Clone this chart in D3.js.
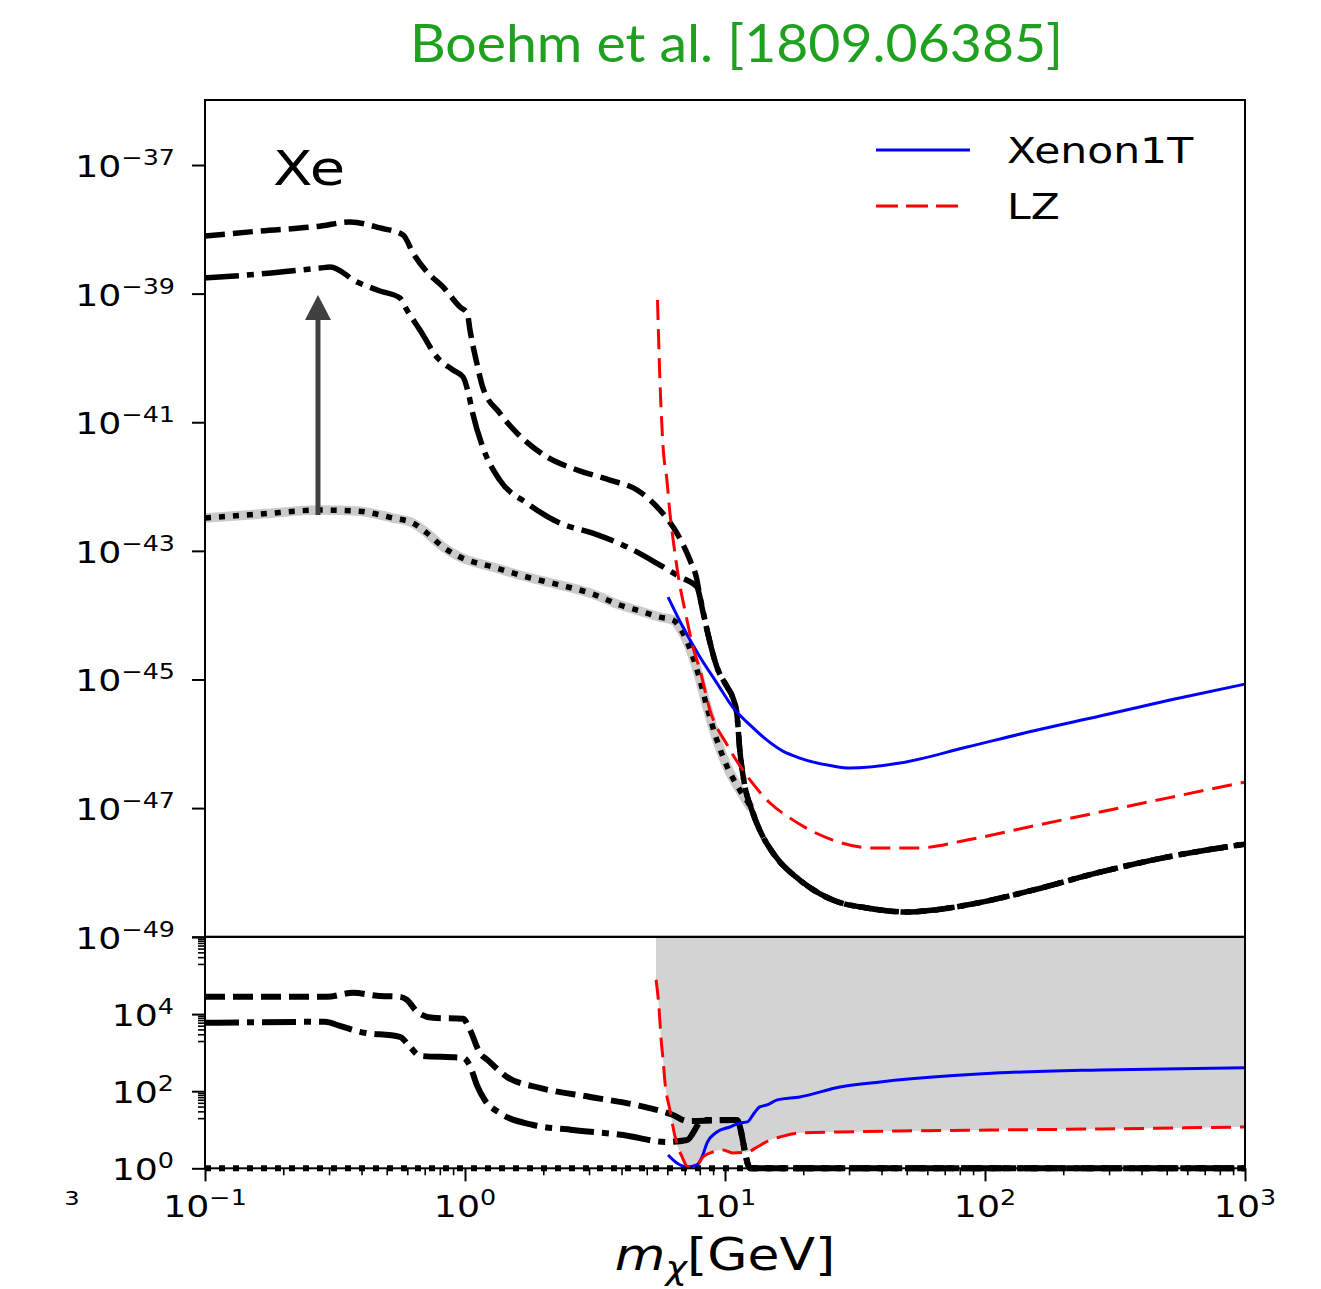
<!DOCTYPE html>
<html>
<head>
<meta charset="utf-8">
<script src="https://cdn.jsdelivr.net/npm/d3@7"></script>
<style>
  html, body { margin: 0; padding: 0; background: #fff; }
  svg { display: block; }
  text { font-family: "DejaVu Sans", sans-serif; fill: #000; }
</style>
</head>
<body>
<svg id="chart" width="1321" height="1289"></svg>
<script>
// ---------- Upper panel: cross-section limits (cm^2) vs DM mass (GeV) ----------
// Dashed curve, low-mass part
const dashedMass  = [0.1, 0.163, 0.277, 0.361, 0.471, 0.578, 0.631, 0.714, 0.823, 0.957, 1.02, 1.045, 1.11, 1.17, 1.36, 1.585, 2.07, 2.70, 3.61, 4.59, 5.62, 6.53, 7.33, 7.80];
const dashedSigma = [7.87e-39, 9.42e-39, 1.12e-38, 1.30e-38, 1.05e-38, 8.15e-39, 4.28e-39, 2.17e-39, 1.27e-39, 6.19e-40, 4.99e-40, 2.72e-40, 8.34e-41, 3.52e-41, 1.39e-41, 6.79e-42, 2.88e-42, 1.81e-42, 1.26e-42, 8.83e-43, 4.31e-43, 1.89e-43, 7.19e-44, 3.52e-44];
// Dash-dot curve, low-mass part
const dashDotMass  = [0.1, 0.163, 0.277, 0.303, 0.385, 0.471, 0.562, 0.598, 0.671, 0.780, 0.899, 0.983, 1.03, 1.07, 1.17, 1.36, 1.73, 2.32, 3.10, 4.20, 5.62, 6.71, 7.80];
const dashDotSigma = [1.75e-39, 2.02e-39, 2.50e-39, 2.59e-39, 1.51e-39, 1.10e-39, 8.55e-40, 5.56e-40, 2.72e-40, 1.03e-40, 6.49e-41, 5.05e-41, 2.84e-41, 1.39e-41, 4.11e-42, 1.26e-42, 5.53e-43, 2.70e-43, 1.89e-43, 1.15e-43, 6.01e-44, 3.92e-44, 2.74e-44];
// Knee shared by the dashed and dash-dot curves
const kneeMass  = [8.01, 8.53, 9.31, 10.2, 10.7, 11.1, 11.4, 11.9];
const kneeSigma = [1.91e-44, 5.86e-45, 1.56e-45, 7.62e-46, 5.32e-46, 3.00e-46, 7.98e-47, 2.28e-47];
// Dotted curve, low-mass part
const dottedMass  = [0.1, 0.163, 0.277, 0.385, 0.528, 0.631, 0.714, 0.823, 0.957, 1.28, 1.73, 2.32, 3.10, 3.94, 4.71, 5.62, 6.31, 6.89, 7.53, 8.01, 8.53, 9.31, 10.2, 11.4];
const dottedSigma = [3.24e-43, 3.73e-43, 4.31e-43, 4.16e-43, 3.24e-43, 2.70e-43, 1.89e-43, 1.15e-43, 8.01e-44, 5.60e-44, 3.92e-44, 2.94e-44, 2.13e-44, 1.44e-44, 1.16e-44, 9.33e-45, 8.39e-45, 5.27e-45, 2.23e-45, 9.79e-46, 3.72e-46, 1.14e-46, 4.35e-47, 1.91e-47];
// High-mass tail common to all three black curves
const tailMass  = [12.6, 13.6, 15.3, 19.4, 26.0, 35.2, 50.1, 63.1, 93.1, 153, 277, 501, 1000];
const tailSigma = [1.0e-47, 4.55e-48, 2.0e-48, 7.59e-49, 3.71e-49, 2.79e-49, 2.42e-49, 2.59e-49, 3.33e-49, 5.31e-49, 1.01e-48, 1.73e-48, 2.75e-48];

// Xenon1T
const xenonMass  = [6.04, 6.89, 8.01, 9.31, 10.7, 12.5, 14.5, 16.7, 19.4, 26.0, 30.2, 47.1, 85.3, 153, 277, 515, 1000];
const xenonSigma = [1.91e-44, 6.53e-45, 2.23e-45, 8.79e-46, 3.72e-46, 1.95e-46, 1.14e-46, 7.69e-47, 6.0e-47, 4.50e-47, 4.19e-47, 5.01e-47, 8.89e-47, 1.58e-46, 2.70e-46, 4.79e-46, 8.47e-46];
// LZ
const lzMass  = [5.50, 5.62, 5.78, 5.98, 6.14, 6.25, 6.65, 7.08, 7.53, 8.01, 8.75, 10.2, 12.5, 14.9, 17.8, 26.0, 37.1, 54.7, 85.3, 153, 277, 501, 1000];
const lzSigma = [7.94e-40, 4.53e-41, 4.11e-42, 1.26e-42, 3.87e-43, 2.10e-43, 3.52e-44, 1.0e-44, 3.19e-45, 1.40e-45, 3.34e-46, 9.55e-47, 2.72e-47, 1.20e-47, 6.98e-48, 3.18e-48, 2.39e-48, 2.39e-48, 3.18e-48, 5.25e-48, 8.67e-48, 1.43e-47, 2.54e-47];

// ---------- Lower panel: ratios ----------
const ratioDashedMass = [0.1, 0.294, 0.371, 0.459, 0.562, 0.598, 0.654, 0.753, 0.983, 1.045, 1.14, 1.22, 1.45, 1.94, 3.03, 4.71, 6.31, 7.14, 11.1, 12.5, 100, 1000];
const ratioDashed     = [2.81e4, 2.81e4, 3.57e4, 2.99e4, 2.81e4, 2.35e4, 1.15e4, 8.0e3, 7.55e3, 3.91e3, 988, 650, 235, 122, 71, 41.5, 24.2, 16.9, 18, 1, 1, 1];
const ratioDashDotMass = [0.1, 0.289, 0.330, 0.394, 0.562, 0.614, 0.671, 0.983, 1.045, 1.11, 1.19, 1.36, 1.83, 2.60, 4.05, 5.98, 7.14, 8.23, 11.1, 12.5, 100, 1000];
const ratioDashDot     = [5.94e3, 6.31e3, 4.97e3, 3.47e3, 2.57e3, 1.42e3, 826, 733, 454, 146, 59.4, 27.3, 13.3, 9.9, 7.3, 4.8, 5.4, 18, 18, 1, 1, 1];
const ratioDottedMass = [0.1, 1, 10, 100, 1000];
const ratioDotted     = [1, 1, 1, 1, 1];
const ratioXenonMass = [6.04, 6.53, 7.14, 7.80, 8.16, 8.53, 9.31, 10.45, 11.42, 12.2, 12.8, 13.6, 14.5, 15.9, 19.4, 27.7, 39.5, 73.3, 114, 277, 1000];
const ratioXenon     = [2.21, 1.37, 1.08, 1.22, 1.97, 4.54, 8.77, 11.8, 15.0, 16.0, 24.2, 39.1, 44.1, 59.4, 71.1, 129, 174, 250, 299, 357, 403];
const ratioLzMass = [5.43, 5.57, 5.68, 5.78, 5.88, 6.14, 6.43, 6.84, 7.21, 7.80, 8.23, 8.99, 9.82, 10.7, 12.2, 13.3, 14.9, 16.3, 19.4, 27.7, 47.1, 114, 277, 1000];
const ratioLz     = [7.78e4, 1.55e4, 2.15e3, 650, 164, 32.7, 6.5, 1.97, 1.08, 1.22, 1.97, 2.65, 2.99, 2.5, 2.65, 3.57, 5.43, 6.5, 8.26, 8.77, 9.3, 9.89, 10.5, 11.8];

// Axis ticks
const xMajor = [0.1, 1, 10, 100, 1000];
const xLabels = ["10^-1", "10^0", "10^1", "10^2", "10^3"];
const yTopMajor = [1e-37, 1e-39, 1e-41, 1e-43, 1e-45, 1e-47, 1e-49];
const yTopLabels = ["10^-37", "10^-39", "10^-41", "10^-43", "10^-45", "10^-47", "10^-49"];
const yBotMajor = [1, 1e2, 1e4];
const yBotLabels = ["10^0", "10^2", "10^4"];

// Annotation arrow (mass, from, to)
const arrowMass = 0.272, arrowFrom = 3.6e-43, arrowTo = 9.5e-40;

// ---------- Layout ----------
const svg = d3.select("#chart");
const L = 205, R = 1245;
const topY0 = 100.7, topY1 = 936.7, botY0 = 937, botY1 = 1168.3;

const x = d3.scaleLog().domain([0.1, 1000]).range([L, R]);
const yTop = d3.scaleLog().domain([1e-49, 1e-36]).range([topY1, topY0]);
const yBot = d3.scaleLog().domain([1, 1e6]).range([botY1, botY0]);

const STRETCH = 1.21;
svg.append("rect").attr("width", 1321).attr("height", 1289).attr("fill", "#fff");

const defs = svg.append("defs");
defs.append("clipPath").attr("id", "clipTop").append("rect")
  .attr("x", L).attr("y", 100).attr("width", R - L).attr("height", 837);
defs.append("clipPath").attr("id", "clipBot").append("rect")
  .attr("x", L).attr("y", botY0).attr("width", R - L).attr("height", botY1 - botY0 + 5);

const zip = (ms, vs) => ms.map((m, i) => [m, vs[i]]);
function lineFor(yScale) {
  return d3.line().x(d => x(d[0])).y(d => yScale(d[1])).curve(d3.curveMonotoneX);
}

const styles = {
  dashed:  { color: "#000", width: 5.5, dash: "20,8" },
  dashdot: { color: "#000", width: 5.5, dash: "34,8,7,8" },
  dotted:  { color: "#000", width: 5.5, dash: "6,8" },
  xenon:   { color: "#0000ff", width: 3, dash: null },
  lz:      { color: "#ff0000", width: 3, dash: "20,9" }
};
function draw(g, data, yScale, st, widthOverride) {
  g.append("path").datum(data)
    .attr("d", lineFor(yScale))
    .attr("fill", "none")
    .attr("stroke", st.color)
    .attr("stroke-width", widthOverride || st.width)
    .attr("stroke-dasharray", st.dash)
    .attr("stroke-linecap", "butt")
    .attr("stroke-linejoin", "round");
}

// ---------- Lower panel ----------
const gBot = svg.append("g").attr("clip-path", "url(#clipBot)");
gBot.append("path").datum(zip(ratioLzMass, ratioLz))
  .attr("d", d3.area().x(d => x(d[0])).y0(yBot(1e6)).y1(d => yBot(d[1])).curve(d3.curveMonotoneX))
  .attr("fill", "#d3d3d3");
draw(gBot, zip(ratioDottedMass, ratioDotted), yBot, styles.dotted, 6);
draw(gBot, zip(ratioDashDotMass, ratioDashDot), yBot, styles.dashdot, 6);
draw(gBot, zip(ratioDashedMass, ratioDashed), yBot, styles.dashed, 6);
draw(gBot, zip(ratioXenonMass, ratioXenon), yBot, styles.xenon);
draw(gBot, zip(ratioLzMass, ratioLz), yBot, styles.lz);

// ---------- Upper panel ----------
const gTop = svg.append("g").attr("clip-path", "url(#clipTop)");
const dottedData = zip(dottedMass, dottedSigma).concat(zip(tailMass, tailSigma));
// grey halo under the dotted curve
gTop.append("path").datum(zip(dottedMass, dottedSigma).concat([[tailMass[0], tailSigma[0]]]))
  .attr("d", lineFor(yTop)).attr("fill", "none")
  .attr("stroke", "#cbcbcb").attr("stroke-width", 9.5).attr("stroke-linejoin", "round");
draw(gTop, dottedData, yTop, styles.dotted);
draw(gTop, zip(dashDotMass, dashDotSigma).concat(zip(kneeMass, kneeSigma), zip(tailMass, tailSigma)), yTop, styles.dashdot);
draw(gTop, zip(dashedMass, dashedSigma).concat(zip(kneeMass, kneeSigma), zip(tailMass, tailSigma)), yTop, styles.dashed);
draw(gTop, zip(xenonMass, xenonSigma), yTop, styles.xenon);
draw(gTop, zip(lzMass, lzSigma), yTop, styles.lz);

// Arrow
const ax = x(arrowMass), ay0 = yTop(arrowFrom), ay1 = yTop(arrowTo);
const headLen = 25, headHalf = 13;
svg.append("line").attr("x1", ax).attr("x2", ax).attr("y1", ay0).attr("y2", ay1 + headLen - 1)
  .attr("stroke", "#404040").attr("stroke-width", 5);
svg.append("path")
  .attr("d", `M${ax},${ay1} L${ax - headHalf},${ay1 + headLen} L${ax + headHalf},${ay1 + headLen} Z`)
  .attr("fill", "#404040");

// ---------- Frames ----------
svg.append("rect").attr("x", L).attr("y", 100).attr("width", R - L).attr("height", topY1 - 100)
  .attr("fill", "none").attr("stroke", "#000").attr("stroke-width", 2);
svg.append("rect").attr("x", L).attr("y", botY0).attr("width", R - L).attr("height", botY1 - botY0)
  .attr("fill", "none").attr("stroke", "#000").attr("stroke-width", 2);

// ---------- Axes ----------
function styleAxis(g, w) {
  g.select(".domain").remove();
  g.selectAll(".tick line").attr("stroke", "#000").attr("stroke-width", w);
  g.selectAll(".tick text").remove();
}
const xMinor = [];
[-1, 0, 1, 2].forEach(k => { for (let m = 2; m <= 9; m++) xMinor.push(m * Math.pow(10, k)); });
svg.append("g").attr("transform", `translate(0,${botY1})`)
  .call(d3.axisBottom(x).tickValues(xMajor).tickSize(13).tickFormat(""))
  .call(g => styleAxis(g, 2));
svg.append("g").attr("transform", `translate(0,${botY1})`)
  .call(d3.axisBottom(x).tickValues(xMinor).tickSize(7).tickFormat(""))
  .call(g => styleAxis(g, 1.6));

svg.append("g").attr("transform", `translate(${L},0)`)
  .call(d3.axisLeft(yTop).tickValues(yTopMajor).tickSize(13).tickFormat(""))
  .call(g => styleAxis(g, 2));
svg.append("g").attr("transform", `translate(${L},0)`)
  .call(d3.axisLeft(yBot).tickValues(yBotMajor.concat([1e6])).tickSize(13).tickFormat(""))
  .call(g => styleAxis(g, 2));
const yBotMinor = [];
[1, 3, 5].forEach(k => { for (let m = 2; m <= 9; m++) yBotMinor.push(m * Math.pow(10, k)); });
svg.append("g").attr("transform", `translate(${L},0)`)
  .call(d3.axisLeft(yBot).tickValues(yBotMinor).tickSize(7).tickFormat(""))
  .call(g => styleAxis(g, 1.6));

// Power-of-ten label: "10" with a raised exponent
function powLabel(px, py, label, anchor) {
  const exp = label.split("^")[1].replace("-", "\u2212");
  const t = svg.append("text")
    .attr("transform", `translate(${px},${py}) scale(${STRETCH},1)`)
    .attr("text-anchor", anchor).attr("font-size", 30);
  t.append("tspan").text("10");
  t.append("tspan").attr("font-size", 21).attr("dy", -12).text(exp);
}
xMajor.forEach((v, i) => powLabel(x(v), 1217, xLabels[i], "middle"));
yTopMajor.forEach((v, i) => powLabel(175, yTop(v) + 12, yTopLabels[i], "end"));
yBotMajor.forEach((v, i) => powLabel(174, yBot(v) + 12, yBotLabels[i], "end"));

svg.append("text").attr("transform", `translate(72,1205) scale(${STRETCH},1)`)
  .attr("text-anchor", "middle").attr("font-size", 20).text("3");

// X axis title
const xt = svg.append("text").attr("transform", `translate(725,1270) scale(1.18,1)`)
  .attr("text-anchor", "middle").attr("font-size", 44);
xt.append("tspan").attr("font-style", "italic").text("m");
xt.append("tspan").attr("font-style", "italic").attr("font-size", 31).attr("dy", 9).text("\u03c7");
xt.append("tspan").attr("dy", -9).text("[GeV]");

// Panel tag
svg.append("text").attr("transform", `translate(273,185) scale(1.2,1)`)
  .attr("font-size", 48).text("Xe");

// Legend
const legend = [
  { name: "Xenon1T", st: styles.xenon, y: 150 },
  { name: "LZ", st: styles.lz, y: 206 }
];
legend.forEach(it => {
  svg.append("line").attr("x1", 876).attr("x2", it.name === "LZ" ? 960 : 970)
    .attr("y1", it.y).attr("y2", it.y)
    .attr("stroke", it.st.color).attr("stroke-width", 3)
    .attr("stroke-dasharray", it.st.dash ? "22,8" : null);
  svg.append("text").attr("transform", `translate(1007,${it.y + 13}) scale(1.18,1)`)
    .attr("font-size", 36).text(it.name);
});

// Title
svg.append("text").attr("x", 410).attr("y", 62)
  .attr("font-size", 53)
  .attr("textLength", 653).attr("lengthAdjust", "spacingAndGlyphs")
  .style("fill", "#1fa01f").style("font-family", "Lato, 'Open Sans', sans-serif")
  .text("Boehm et al. [1809.06385]");
</script>
</body>
</html>
